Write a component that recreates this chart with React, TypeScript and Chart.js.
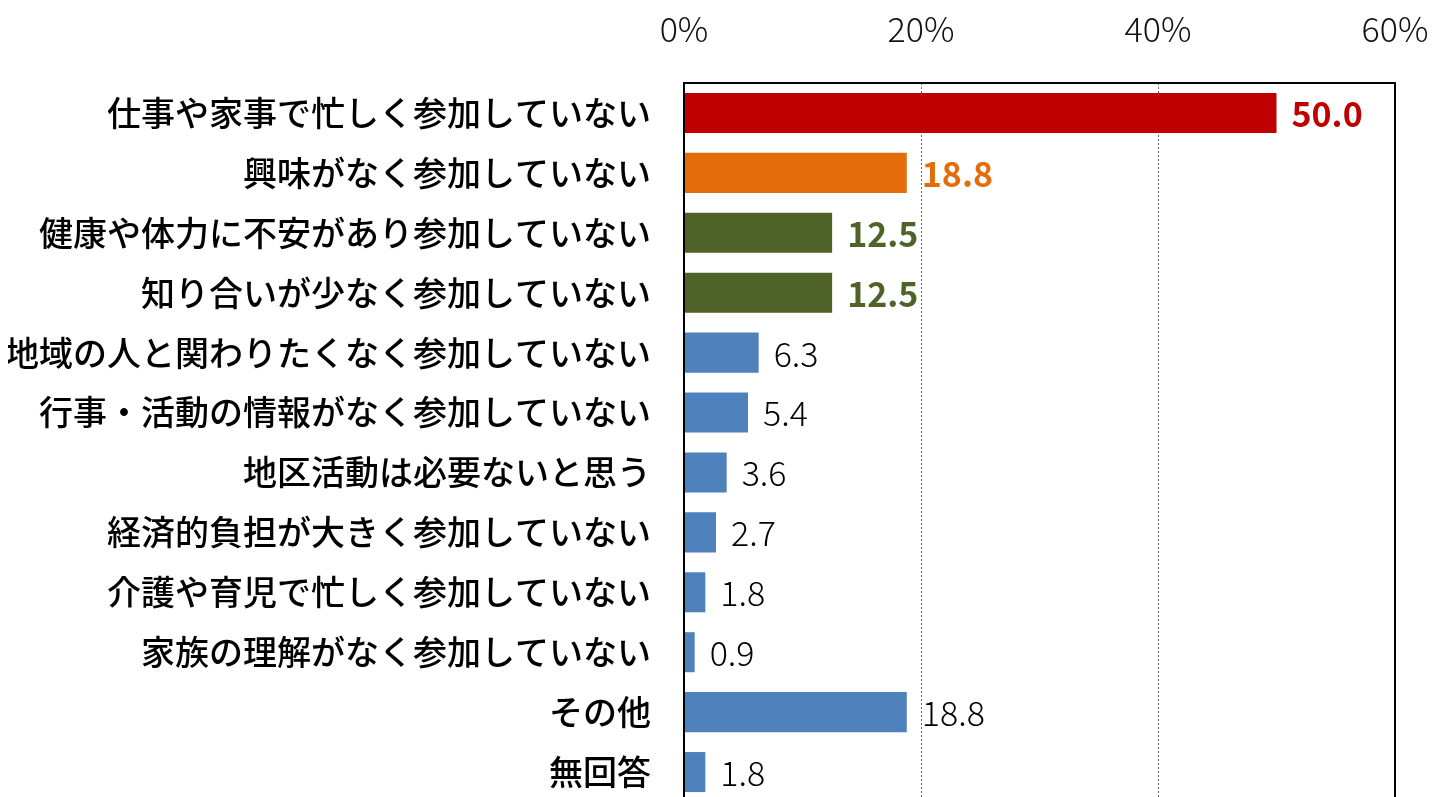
import React, { useEffect, useRef } from "react";
import { Chart, registerables } from "chart.js";

Chart.register(...registerables);

const categories = [
  "仕事や家事で忙しく参加していない",
  "興味がなく参加していない",
  "健康や体力に不安があり参加していない",
  "知り合いが少なく参加していない",
  "地域の人と関わりたくなく参加していない",
  "行事・活動の情報がなく参加していない",
  "地区活動は必要ないと思う",
  "経済的負担が大きく参加していない",
  "介護や育児で忙しく参加していない",
  "家族の理解がなく参加していない",
  "その他",
  "無回答",
];

const values = [50.0, 18.8, 12.5, 12.5, 6.3, 5.4, 3.6, 2.7, 1.8, 0.9, 18.8, 1.8];

const barColors = [
  "#C00000",
  "#E46C0A",
  "#4F6228",
  "#4F6228",
  "#4F81BD",
  "#4F81BD",
  "#4F81BD",
  "#4F81BD",
  "#4F81BD",
  "#4F81BD",
  "#4F81BD",
  "#4F81BD",
];

const labelColors = [
  "#C00000",
  "#E46C0A",
  "#4F6228",
  "#4F6228",
  "#000000",
  "#000000",
  "#000000",
  "#000000",
  "#000000",
  "#000000",
  "#000000",
  "#000000",
];

const labelBold = [true, true, true, true, false, false, false, false, false, false, false, false];

const xTicks = [0, 20, 40, 60];

const FONT = "'Noto Sans CJK JP', 'Noto Sans', sans-serif";

const dataLabelPlugin = {
  id: "dataLabels",
  afterDatasetsDraw(chart: any) {
    const ctx = chart.ctx;
    const meta = chart.getDatasetMeta(0);
    ctx.save();
    meta.data.forEach((bar: any, i: number) => {
      ctx.font = `${labelBold[i] ? "bold" : "300"} 34px ${FONT}`;
      ctx.fillStyle = labelColors[i];
      ctx.textAlign = "left";
      ctx.textBaseline = "middle";
      ctx.fillText(values[i].toFixed(1), bar.x + 15, bar.y + 1);
    });
    ctx.restore();
  },
};

const framePlugin = {
  id: "frame",
  afterDraw(chart: any) {
    const { ctx, chartArea } = chart;
    ctx.save();
    ctx.strokeStyle = "#000000";
    ctx.lineWidth = 2;
    ctx.beginPath();
    ctx.moveTo(chartArea.left, chartArea.bottom + 5);
    ctx.lineTo(chartArea.left, chartArea.top);
    ctx.lineTo(chartArea.right, chartArea.top);
    ctx.lineTo(chartArea.right, chartArea.bottom + 5);
    ctx.stroke();
    ctx.restore();
  },
};

export default function App() {
  const ref = useRef<HTMLCanvasElement>(null);

  useEffect(() => {
    if (!ref.current) return;
    const chart = new Chart(ref.current, {
      type: "bar",
      data: {
        labels: categories,
        datasets: [
          {
            data: values,
            backgroundColor: barColors,
            borderWidth: 0,
            barPercentage: 0.668,
            categoryPercentage: 1,
          },
        ],
      },
      options: {
        indexAxis: "y",
        responsive: false,
        animation: false,
        layout: { padding: { left: 8, right: 0, top: 8, bottom: 0 } },
        plugins: {
          legend: { display: false },
          tooltip: { enabled: false },
        },
        scales: {
          x: {
            position: "top",
            min: 0,
            max: 60,
            afterBuildTicks: (scale: any) => {
              scale.ticks = xTicks.map((v) => ({ value: v }));
            },
            afterFit: (scale: any) => {
              scale.height = 75;
              scale.paddingLeft = 0;
              scale.paddingRight = 37;
            },
            ticks: {
              callback: (v: any) => `${v}%`,
              font: { family: FONT, size: 34, weight: "300" },
              color: "#111111",
              padding: 34,
              maxRotation: 0,
              minRotation: 0,
            },
            grid: {
              color: "#666666",
              lineWidth: 1,
              drawTicks: false,
            },
            border: { display: false, dash: [2, 2] },
          },
          y: {
            afterFit: (scale: any) => {
              scale.width = 676;
              scale.paddingTop = 0;
              scale.paddingBottom = 0;
            },
            ticks: {
              font: { family: FONT, size: 34, weight: "500" },
              color: "#000000",
              padding: 33,
            },
            grid: { display: false, drawTicks: false },
            border: { display: false },
          },
        },
      },
      plugins: [dataLabelPlugin, framePlugin],
    });
    return () => chart.destroy();
  }, []);

  return (
    <div
      style={{
        position: "fixed",
        left: 0,
        top: 0,
        width: 1432,
        height: 797,
        overflow: "hidden",
        background: "#ffffff",
      }}
    >
      <canvas ref={ref} width={1432} height={802} style={{ display: "block" }} />
    </div>
  );
}
